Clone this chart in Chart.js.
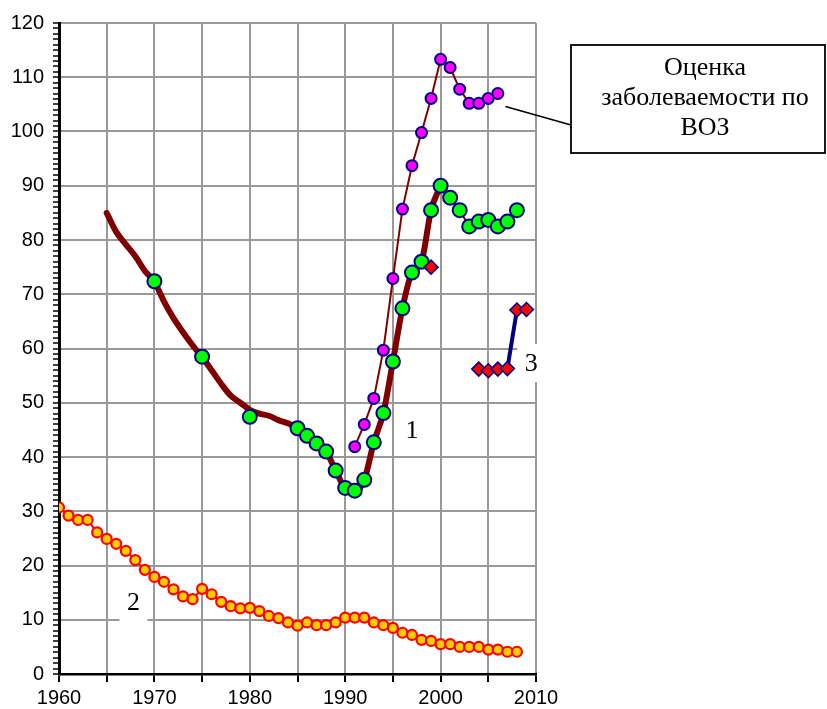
<!DOCTYPE html>
<html>
<head>
<meta charset="utf-8">
<script src="https://cdn.jsdelivr.net/npm/chart.js@4/dist/chart.umd.min.js"></script>
<style>
html,body{margin:0;padding:0;background:#fff;}
#wrap{width:827px;height:709px;}
</style>
</head>
<body>
<div id="wrap"><canvas id="c" width="827" height="709"></canvas></div>
<script>
// Series 2 (yearly, 1960-2008)
const years2 = [1960,1961,1962,1963,1964,1965,1966,1967,1968,1969,
                1970,1971,1972,1973,1974,1975,1976,1977,1978,1979,
                1980,1981,1982,1983,1984,1985,1986,1987,1988,1989,
                1990,1991,1992,1993,1994,1995,1996,1997,1998,1999,
                2000,2001,2002,2003,2004,2005,2006,2007,2008];
const values2 = [30.7,29.2,28.4,28.4,26.1,24.9,24.0,22.7,21.0,19.2,
                 17.9,17.0,15.6,14.3,13.8,15.7,14.7,13.3,12.5,12.1,
                 12.2,11.6,10.7,10.3,9.5,8.9,9.5,9.0,9.0,9.5,
                 10.4,10.4,10.4,9.5,9.0,8.5,7.6,7.2,6.3,6.1,
                 5.5,5.5,5.0,5.0,5.0,4.5,4.5,4.1,4.1];
// Series 1 thick trend line (1965-2000)
const yearsTrend = [1965,1966,1967,1968,1969,1970,1971,1972,1973,1974,
                    1975,1976,1977,1978,1979,1980,1981,1982,1983,1984,
                    1985,1986,1987,1988,1989,1990,1991,1992,1993,1994,
                    1995,1996,1997,1998,1999,2000];
const valuesTrend = [85.0,81.5,79.2,77.0,74.3,72.3,68.7,65.6,63.0,60.6,
                     58.4,56.0,53.5,51.3,50.0,48.7,48.0,47.6,46.8,46.2,
                     45.3,43.9,42.5,41.0,37.5,34.3,33.8,35.8,42.7,48.1,
                     57.6,67.4,74.0,76.0,85.5,90.0];
// Series 1 points (green)
const years1 = [1970,1975,1980,1985,1986,1987,1988,1989,1990,1991,1992,1993,1994,
                1995,1996,1997,1998,1999,2000,2001,2002,2003,2004,2005,2006,2007,2008];
const values1 = [72.4,58.5,47.4,45.3,43.9,42.5,41.0,37.5,34.3,33.8,35.8,42.7,48.1,
                 57.6,67.4,74.0,76.0,85.5,90.0,87.8,85.5,82.5,83.4,83.7,82.5,83.4,85.5];
// WHO estimate (magenta)
const yearsWHO = [1991,1992,1993,1994,1995,1996,1997,1998,1999,2000,2001,2002,2003,2004,2005,2006];
const valuesWHO = [41.9,46.0,50.8,59.7,72.9,85.7,93.7,99.8,106.1,113.3,111.8,107.8,105.2,105.2,106.1,107.0];
// Series 3 (diamonds)
const years3 = [1999,2000,2004,2005,2006,2007,2008,2009];
const values3 = [75.0,null,56.2,55.9,56.2,56.3,67.1,67.2];

const xTicksStep = 5;
const yTicksStep = 1;
const calloutLines = ['Оценка','заболеваемости по','ВОЗ'];
const seriesLabels = [
  {text:'1', x:1997.0, y:45.0},
  {text:'2', x:1967.8, y:13.2},
  {text:'3', x:2009.5, y:57.3}
];

function pts(xs, ys){ return xs.map((x,i)=>({x:x, y:ys[i]})); }

const annot = {
  id:'annot',
  afterDatasetsDraw(chart){
    const c = chart.ctx, xs = chart.scales.x, ys = chart.scales.y;
    c.save();
    // series number labels with white boxes
    c.font = '26px "Liberation Serif", "Times New Roman", serif';
    c.textAlign = 'center'; c.textBaseline = 'middle';
    seriesLabels.forEach(l=>{
      const px = xs.getPixelForValue(l.x), py = ys.getPixelForValue(l.y);
      c.fillStyle = '#fff';
      c.fillRect(px-14, py-19, 28, 38);
      c.fillStyle = '#000';
      c.fillText(l.text, px, py+1);
    });
    // callout connector
    const ax = xs.getPixelForValue(2006.8), ay = ys.getPixelForValue(104.6);
    c.strokeStyle = '#000'; c.lineWidth = 1.5;
    c.beginPath(); c.moveTo(ax, ay); c.lineTo(571, 125); c.stroke();
    // callout box
    c.fillStyle = '#fff';
    c.fillRect(571, 45, 254, 108);
    c.lineWidth = 1.8;
    c.strokeRect(571, 45, 254, 108);
    c.fillStyle = '#000';
    c.textBaseline = 'alphabetic';
    c.font = '26px "Liberation Serif", "Times New Roman", serif';
    const base = [75, 105, 135];
    calloutLines.forEach((t,i)=> c.fillText(t, 705, base[i]));
    c.restore();
  }
};

new Chart(document.getElementById('c'), {
  type:'line',
  data:{
    datasets:[
      { data: pts(years2, values2), borderColor:'#ff0000', borderWidth:2,
        pointBackgroundColor:'#ffcc00', pointBorderColor:'#ff0000', pointBorderWidth:2.2,
        pointRadius:5, order:1 },
      { data: pts(years3, values3), borderColor:'#000080', borderWidth:4, spanGaps:false,
        pointStyle:'rectRot', pointBackgroundColor:'#ff0000', pointBorderColor:'#000080',
        pointBorderWidth:1.5, pointRadius:7, order:2 },
      { data: pts(years1, values1), borderColor:'#800000', borderWidth:2,
        segment:{ borderColor: ctx => ctx.p0.parsed.x < 2000 ? 'rgba(0,0,0,0)' : '#800000' },
        pointBackgroundColor:'#00ff00', pointBorderColor:'#000080', pointBorderWidth:2,
        pointRadius:7, order:3 },
      { data: pts(yearsWHO, valuesWHO), borderColor:'#800000', borderWidth:2,
        pointBackgroundColor:'#ff00ff', pointBorderColor:'#000080', pointBorderWidth:2,
        pointRadius:5.5, order:4 },
      { data: pts(yearsTrend, valuesTrend), borderColor:'#800000', borderWidth:6,
        borderCapStyle:'round', borderJoinStyle:'round', pointRadius:0, cubicInterpolationMode:'monotone', order:5 }
    ]
  },
  options:{
    responsive:false, animation:false, devicePixelRatio:1,
    layout:{ padding:{ top:23, right:291, left:0, bottom:0 } },
    plugins:{ legend:{display:false}, tooltip:{enabled:false} },
    scales:{
      x:{ type:'linear', min:1960, max:2010,
          afterFit(s){ s.height = 35; },
          grid:{ color:'#999', lineWidth:2, tickColor:'#000', tickLength:8, tickWidth:2 },
          border:{ color:'#000', width:2.5 },
          ticks:{ stepSize:xTicksStep, autoSkip:false, maxRotation:0, padding:4,
                  color:'#000', font:{ family:'"Liberation Sans", Arial, sans-serif', size:20 },
                  callback: v => (v % 10 === 0 ? String(v) : '') } },
      y:{ type:'linear', min:0, max:120,
          afterFit(s){ s.width = 59; },
          grid:{ color: ctx => (ctx.tick && ctx.tick.value % 10 === 0 ? '#999' : 'rgba(0,0,0,0)'),
                 lineWidth:2, tickColor:'#000', tickLength:6, tickWidth:1.5 },
          border:{ color:'#000', width:3 },
          ticks:{ stepSize:yTicksStep, autoSkip:false, padding:9,
                  color:'#000', font:{ family:'"Liberation Sans", Arial, sans-serif', size:20 },
                  callback: v => (v % 10 === 0 ? String(v) : '') } }
    }
  },
  plugins:[annot]
});
</script>
</body>
</html>
